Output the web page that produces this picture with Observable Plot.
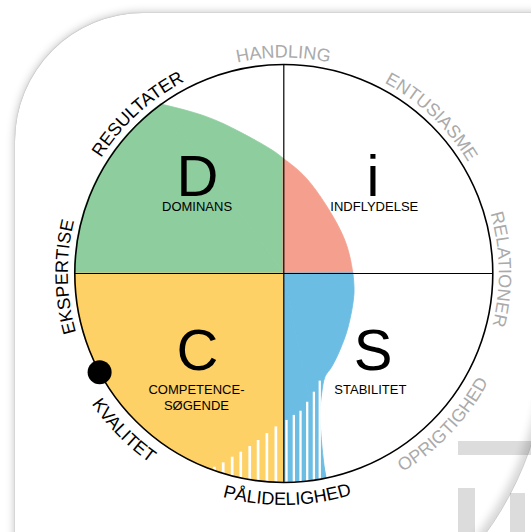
<!DOCTYPE html>
<html><head><meta charset="utf-8">
<script src="https://cdn.jsdelivr.net/npm/d3@7"></script>
<script src="https://cdn.jsdelivr.net/npm/@observablehq/plot@0.6"></script>
<style>
html,body{margin:0;padding:0;background:#fff;overflow:hidden;width:531px;height:532px;}
#card{position:absolute;left:15px;top:13px;width:700px;height:700px;background:#fff;border-top-left-radius:128px;box-shadow:0 0 1px rgba(0,0,0,0.4),0 0 10px rgba(0,0,0,0.28);}
.bar{position:absolute;background:#dcdcdc;}
#curlbox{position:absolute;left:430px;top:400px;width:101px;height:132px;overflow:hidden;}
#curl{position:absolute;left:-532px;top:-382px;width:648px;height:648px;border-radius:50%;border:1px solid rgba(0,0,0,0.2);box-shadow:inset -4px -4px 9px rgba(0,0,0,0.16);}
#chart{position:absolute;left:0;top:0;}
</style></head>
<body>
<div id="card"></div>
<div class="bar" style="left:458px;top:441px;width:73px;height:14px"></div>
<div class="bar" style="left:458px;top:488px;width:17px;height:44px"></div>
<div class="bar" style="left:510px;top:493px;width:15px;height:39px"></div>
<div id="curlbox"><div id="curl"></div></div>
<div id="chart"></div>
<script>
// Quadrants
const quadrantKeys = ["D", "i", "S", "C"];
const quadrantNames = ["DOMINANS", "INDFLYDELSE", "STABILITET", "COMPETENCE-\nSØGENDE"];
const quadrantColors = ["#8dcd9e", "#f59f8e", "#6bbde3", "#fed166"];

// Profile readings: angle in degrees clockwise from the top, radius as a fraction of the circle
const dArcAngle = [270, 280, 290, 300, 310, 320, 324];
const dArcR     = [1, 1, 1, 1, 1, 1, 1];
const dCurveAngle = [324, 334.1, 343, 355.4, 360];
const dCurveR     = [1, 0.84, 0.707, 0.59, 0.548];
const iAngle = [0, 11.3, 25.2, 46.2, 68, 90];
const iR     = [0.548, 0.487, 0.412, 0.354, 0.336, 0.333];
const sCurveAngle = [90, 106, 129.6, 143.6, 152.7, 158.1, 162.3, 165, 166.8, 167.9, 168.3];
const sCurveR     = [0.333, 0.352, 0.403, 0.457, 0.505, 0.535, 0.604, 0.679, 0.786, 0.915, 1];
const sArcAngle = [168.3, 174, 180];
const sArcR     = [1, 1, 1];
const cArcAngle = [180, 190, 200, 210, 220, 230, 240, 250, 260, 270];
const cArcR     = [1, 1, 1, 1, 1, 1, 1, 1, 1, 1];

// Hatched band (stripe positions and stripe tops, in circle units)
const cStripeX   = [-0.332, -0.29, -0.247, -0.206, -0.163, -0.123, -0.081, -0.038];
const cStripeTop = [-0.927, -0.906, -0.879, -0.855, -0.828, -0.799, -0.766, -0.734];
const sStripeX   = [0.013, 0.048, 0.080, 0.112, 0.144, 0.172];
const sStripeTop = [-0.703, -0.679, -0.659, -0.616, -0.568, -0.515];

// Marker on the rim
const markerAngle = [241.8];

// Rim labels
const ringLabels  = ["HANDLING", "ENTUSIASME", "RELATIONER", "OPRIGTIGHED", "PÅLIDELIGHED", "KVALITET", "EKSPERTISE", "RESULTATER"];
const ringAngles  = [0, 43.5, 89, 133.5, 179, 225.4, 269, 317.5];
const ringStrong  = [false, false, false, false, true, true, true, true];

const CX = 283.3, CY = 273, R = 209;
const rad = a => a * Math.PI / 180;
const colorOf = q => quadrantColors[quadrantKeys.indexOf(q)];

const segments = [
  ["D", dArcAngle, dArcR, "catmull-rom"], ["D", dCurveAngle, dCurveR, "basis"],
  ["i", iAngle, iR, "basis"],
  ["S", sCurveAngle, sCurveR, "catmull-rom"], ["S", sArcAngle, sArcR, "catmull-rom"],
  ["C", cArcAngle, cArcR, "catmull-rom"]
];

const fans = segments.map(([q, A, RR, curve]) => {
  const rows = A.map((a, k) => ({a, r: RR[k]}));
  const c = colorOf(q);
  return Plot.area(rows, {
    x1: () => 0, y1: () => 0,
    x2: d => d.r * Math.sin(rad(d.a)), y2: d => d.r * Math.cos(rad(d.a)),
    fill: c, stroke: c, strokeWidth: 0.8, strokeLinejoin: "round", curve
  });
});

const cStripes = cStripeX.map((x, k) => ({x, top: cStripeTop[k]}));
const sStripes = sStripeX.map((x, k) => ({x, top: sStripeTop[k]}));

const sideX = {D: -1, i: 1, S: 1, C: -1};
const upper = {D: true, i: true, S: false, C: false};

const chart = Plot.plot({
  width: 531, height: 532, margin: 0,
  x: {domain: [-1, 1], range: [CX - R, CX + R], axis: null},
  y: {domain: [-1, 1], range: [CY + R, CY - R], axis: null},
  style: {background: "transparent", fontFamily: "'Liberation Sans', Arial, Helvetica, sans-serif", overflow: "visible"},
  marks: [
    ...fans,
    Plot.ruleX(cStripes, {x: "x", y1: () => -1, y2: "top", stroke: "white", strokeWidth: 2.7}),
    Plot.ruleX(sStripes, {x: "x", y1: () => -1, y2: "top", stroke: "white", strokeWidth: 2.3}),
    Plot.ruleX([0], {x: () => 0, y1: () => -1, y2: () => 1, stroke: "black", strokeWidth: 1.2}),
    Plot.ruleY([0], {y: () => 0, x1: () => -1, x2: () => 1, stroke: "black", strokeWidth: 1.2}),
    Plot.dot([0], {x: () => 0, y: () => 0, r: R, fill: "none", stroke: "black", strokeWidth: 1.6}),
    Plot.dot(markerAngle, {x: a => Math.sin(rad(a)), y: a => Math.cos(rad(a)), r: 12, fill: "black"}),
    Plot.text(quadrantKeys, {
      x: d => sideX[d] < 0 ? -0.413 : 0.427,
      y: d => upper[d] ? 0.462 : -0.375,
      text: d => d, fontSize: 58, fill: "black"
    }),
    Plot.text(quadrantKeys, {
      x: d => ({D: -0.415, i: 0.433, S: 0.414, C: -0.418})[d],
      y: d => ({D: 0.322, i: 0.322, S: -0.55, C: -0.589})[d],
      text: (d, i) => quadrantNames[i], fontSize: 13, lineHeight: 1.23, fill: "black"
    })
  ]
});
document.getElementById("chart").append(chart);

// Rim labels along arcs, placed with the chart's own scales
const xs = chart.scale("x"), ys = chart.scale("y");
const cx = xs.apply(0), cy = ys.apply(0), Rp = xs.apply(1) - cx;
const svg = d3.select(chart);
const defs = svg.append("defs");
const lg = svg.append("g").attr("font-size", 18).attr("font-family", "'Liberation Sans', Arial, Helvetica, sans-serif");
ringLabels.forEach((lab, i) => {
  const a = ringAngles[i];
  const bottom = Math.cos(rad(a)) < -0.3;
  const r = bottom ? Rp * 1.11 : Rp * 1.031;
  const P = t => [cx + r * Math.sin(rad(t)), cy - r * Math.cos(rad(t))];
  const [p1, p2] = bottom ? [P(a + 80), P(a - 80)] : [P(a - 80), P(a + 80)];
  const id = "ringpath" + i;
  defs.append("path").attr("id", id)
    .attr("d", `M${p1[0]},${p1[1]} A${r},${r} 0 0 ${bottom ? 0 : 1} ${p2[0]},${p2[1]}`);
  lg.append("text").attr("fill", ringStrong[i] ? "#000" : "#aaaaaa")
    .append("textPath").attr("href", "#" + id).attr("startOffset", "50%")
    .attr("text-anchor", "middle").text(lab);
});
</script>
</body></html>
